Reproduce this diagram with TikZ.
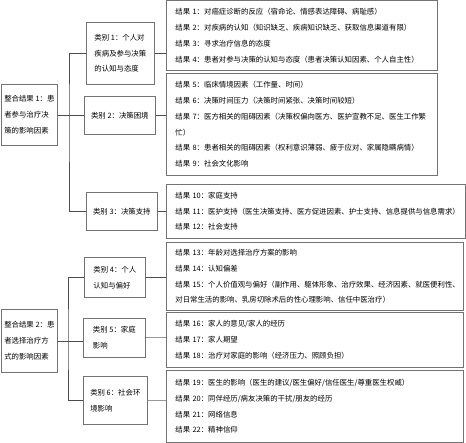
\documentclass[tikz,border=0pt]{standalone}
\usepackage{fontspec}
\setmainfont{Noto Sans CJK SC}
\newcommand\fs{\fontsize{7.4pt}{15.8pt}\selectfont}
\begin{document}
\begin{tikzpicture}[x=1pt,y=-1pt,
  res/.style={draw=black!55, line width=0.7pt, anchor=north west, inner xsep=9pt, inner ysep=0pt, align=left, font=\fs, text=black},
  cat/.style={draw=black!55, line width=0.7pt, anchor=north west, inner sep=0pt, align=left, font=\fs, text=black},
  link/.style={draw=black!70, line width=0.5pt},
  glink/.style={draw=black!40, line width=1.1pt}]
\useasboundingbox (0,0) rectangle (466,443);
% result boxes
\node[res, text width=253pt, minimum height=69.5pt] (rA) at (166,0.5) {结果~1：对癌症诊断的反应（宿命论、情感表达障碍、病耻感）\\ 结果~2：对疾病的认知（知识缺乏、疾病知识缺乏、获取信息渠道有限）\\ 结果~3：寻求治疗信息的态度\\ 结果~4：患者对参与决策的认知与态度（患者决策认知因素、个人自主性）};
\node[res, text width=253pt, minimum height=102pt] (rB) at (166,73) {结果~5：临床情境因素（工作量、时间）\\ 结果~6：决策时间压力（决策时间紧张、决策时间较短）\\ 结果~7：医方相关的阻碍因素（决策权偏向医方、医护宣教不足、医生工作繁\\ 忙）\\ 结果~8：患者相关的阻碍因素（权利意识薄弱、疲于应对、家属隐瞒病情）\\ 结果~9：社会文化影响};
\node[res, text width=281pt, minimum height=54pt] (rC) at (166,184) {结果~10：家庭支持\\ 结果~11：医护支持（医生决策支持、医方促进因素、护士支持、信息提供与信息需求）\\ 结果~12：社会支持};
\node[res, text width=279pt, minimum height=68pt] (rD) at (166,242) {结果~13：年龄对选择治疗方案的影响\\ 结果~14：认知偏差\\ 结果~15：个人价值观与偏好（副作用、躯体形象、治疗效果、经济因素、就医便利性、\\ 对日常生活的影响、乳房切除术后的性心理影响、信任中医治疗）};
\node[res, text width=279pt, minimum height=55pt] (rE) at (166,312) {结果~16：家人的意见/家人的经历\\ 结果~17：家人期望\\ 结果~18：治疗对家庭的影响（经济压力、照顾负担）};
\node[res, text width=279pt, minimum height=72pt] (rF) at (166,370) {结果~19：医生的影响（医生的建议/医生偏好/信任医生/尊重医生权威）\\ 结果~20：同伴经历/病友决策的干扰/朋友的经历\\ 结果~21：网络信息\\ 结果~22：精神信仰};
% categories
\node[cat, minimum width=68pt, minimum height=62pt] (c1) at (86,22) {类别~1：个人对\\疾病及参与决策\\的认知与态度};
\node[cat, minimum width=71pt, minimum height=38pt] (c2) at (84,96) {类别~2：决策困境};
\node[cat, minimum width=71pt, minimum height=38pt] (c3) at (86,192) {类别~3：决策支持};
\node[cat, minimum width=61pt, minimum height=40pt] (c4) at (84,257) {类别~4：个人\\认知与偏好};
\node[cat, minimum width=62pt, minimum height=39pt] (c5) at (83,318) {类别~5：家庭\\影响};
\node[cat, minimum width=64pt, minimum height=48pt] (c6) at (83,376) {类别~6：社会环\\境影响};
% roots
\node[cat, minimum width=56pt, minimum height=61pt] (r1) at (1,84) {整合结果~1：患\\者参与治疗决\\策的影响因素};
\node[cat, minimum width=56pt, minimum height=63pt] (r2) at (1,309) {整合结果~2：患\\者选择治疗方\\式的影响因素};
% connectors
\coordinate (j1) at (69,114);
\coordinate (j2) at (68,340);
\draw[link] (r1.east) -- (r1.east -| c2.west);
\draw[link] (c1.west) -| (j1) |- (c3.west);
\draw[link] (r2.east) -- (r2.east -| c5.west);
\draw[link] (c4.west) -| (j2) |- (c6.west);
\draw[link] (c1.east) -- (c1.east -| rA.west);
\draw[link] (c2.east) -- (c2.east -| rB.west);
\draw[link] (c3.east) -- (c3.east -| rC.west);
\draw[link] (c4.east) -- (c4.east -| rD.west);
\draw[glink] (c5.east) -- (c5.east -| rE.west);
\draw[glink] (c6.east) -- (c6.east -| rF.west);
\end{tikzpicture}
\end{document}
